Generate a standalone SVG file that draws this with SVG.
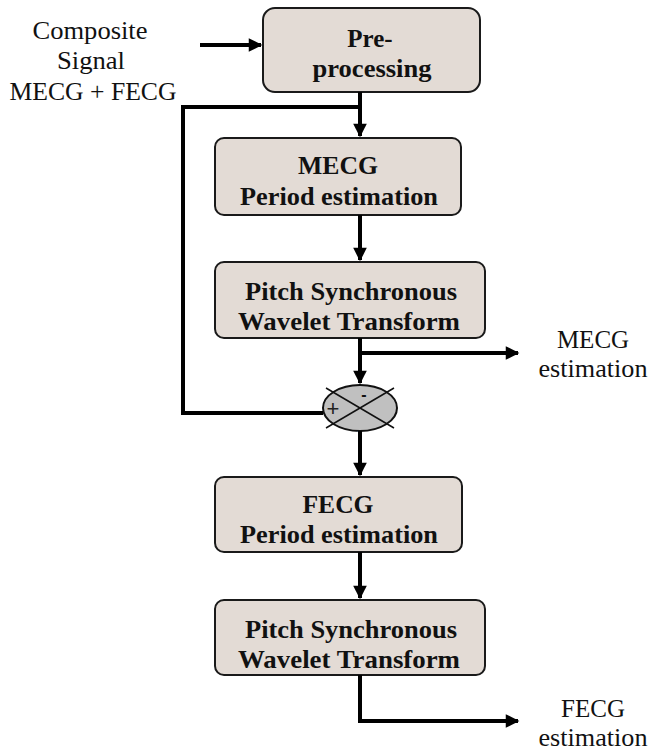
<svg xmlns="http://www.w3.org/2000/svg" width="650" height="754" viewBox="0 0 650 754">
<style>
.box{fill:#e3dbd5;stroke:#1a1a1a;stroke-width:2}
.bt{font-family:"Liberation Serif",serif;font-weight:bold;font-size:25px;text-anchor:middle;fill:#111}
.lt{font-family:"Liberation Serif",serif;font-size:25px;text-anchor:middle;fill:#111}
.ln{fill:none;stroke:#000;stroke-width:4}
.thin{fill:none;stroke:#111;stroke-width:1.5}
</style>
<defs>
<marker id="ah" viewBox="0 0 10 10" refX="9" refY="5" markerWidth="3.6" markerHeight="3.4" markerUnits="strokeWidth" orient="auto">
<path d="M0,0 L10,5 L0,10 Z" fill="#000"/>
</marker>
</defs>
<g id="input-label">
<text class="lt" x="90" y="39" textLength="115" lengthAdjust="spacingAndGlyphs">Composite</text>
<text class="lt" x="91" y="69" textLength="68" lengthAdjust="spacingAndGlyphs">Signal</text>
<text class="lt" x="93" y="100" textLength="167" lengthAdjust="spacingAndGlyphs">MECG + FECG</text>
</g>
<g id="preprocessing">
<rect class="box" x="263" y="8" width="217" height="84" rx="12"/>
<text class="bt" x="370" y="47">Pre-</text>
<text class="bt" x="372" y="77" textLength="119" lengthAdjust="spacingAndGlyphs">processing</text>
</g>
<g id="mecg-period">
<rect class="box" x="215" y="138" width="246" height="77" rx="9"/>
<text class="bt" x="338" y="174" textLength="80" lengthAdjust="spacingAndGlyphs">MECG</text>
<text class="bt" x="339" y="205" textLength="198" lengthAdjust="spacingAndGlyphs">Period estimation</text>
</g>
<g id="pswt1">
<rect class="box" x="215" y="262" width="270" height="76" rx="9"/>
<text class="bt" x="351" y="300" textLength="212" lengthAdjust="spacingAndGlyphs">Pitch Synchronous</text>
<text class="bt" x="349" y="330" textLength="222" lengthAdjust="spacingAndGlyphs">Wavelet Transform</text>
</g>
<g id="subtractor">
<ellipse cx="360" cy="408" rx="37" ry="23" fill="#c0c0c0" stroke="#111" stroke-width="2"/>
<line class="thin" x1="326" y1="388" x2="394" y2="428"/>
<line class="thin" x1="326" y1="428" x2="394" y2="388"/>
<text x="364" y="400" font-family="Liberation Sans,sans-serif" font-weight="bold" font-size="16" text-anchor="middle" fill="#111">-</text>
<text x="333" y="416" font-family="Liberation Sans,sans-serif" font-size="22" text-anchor="middle" fill="#222">+</text>
<text x="359" y="435" font-family="Liberation Sans,sans-serif" font-size="12" text-anchor="middle" fill="#777">-</text>
</g>
<g id="fecg-period">
<rect class="box" x="215" y="477" width="247" height="75" rx="9"/>
<text class="bt" x="338" y="513" textLength="71" lengthAdjust="spacingAndGlyphs">FECG</text>
<text class="bt" x="339" y="543" textLength="198" lengthAdjust="spacingAndGlyphs">Period estimation</text>
</g>
<g id="pswt2">
<rect class="box" x="215" y="600" width="270" height="75" rx="9"/>
<text class="bt" x="351" y="638" textLength="212" lengthAdjust="spacingAndGlyphs">Pitch Synchronous</text>
<text class="bt" x="349" y="668" textLength="222" lengthAdjust="spacingAndGlyphs">Wavelet Transform</text>
</g>
<g id="mecg-out-label">
<text class="lt" x="593" y="348">MECG</text>
<text class="lt" x="593" y="377" textLength="109" lengthAdjust="spacingAndGlyphs">estimation</text>
</g>
<g id="fecg-out-label">
<text class="lt" x="593" y="717">FECG</text>
<text class="lt" x="593" y="746" textLength="109" lengthAdjust="spacingAndGlyphs">estimation</text>
</g>
<g id="connectors">
<line class="ln" x1="200" y1="45" x2="261" y2="45" marker-end="url(#ah)"/>
<line class="ln" x1="360" y1="92" x2="360" y2="136" marker-end="url(#ah)"/>
<polyline class="ln" points="360,107 183,107 183,413 323,413"/>
<line class="ln" x1="360" y1="215" x2="360" y2="260" marker-end="url(#ah)"/>
<line class="ln" x1="360" y1="338" x2="360" y2="383" marker-end="url(#ah)"/>
<line class="ln" x1="360" y1="353" x2="518" y2="353" marker-end="url(#ah)"/>
<line class="ln" x1="360" y1="431" x2="360" y2="475" marker-end="url(#ah)"/>
<line class="ln" x1="360" y1="552" x2="360" y2="598" marker-end="url(#ah)"/>
<polyline class="ln" points="360,675 360,721 518,721" marker-end="url(#ah)"/>
</g>
</svg>
